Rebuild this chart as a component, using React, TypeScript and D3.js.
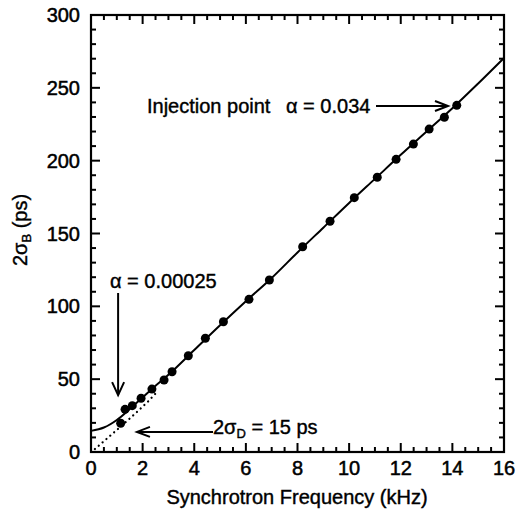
import React from "react";
import * as d3 from "d3";

// Measured points: synchrotron frequency (kHz) vs 2σB (ps)
const freqKHz = [1.15, 1.32, 1.6, 1.94, 2.36, 2.83, 3.14, 3.77, 4.43, 5.13, 6.12, 6.91, 8.2, 9.26, 10.2, 11.09, 11.82, 12.49, 13.1, 13.69, 14.17];
const bunchPs = [19.7, 29.3, 31.8, 36.9, 43.2, 49.4, 55.1, 66.1, 78.1, 89.4, 104.8, 118.1, 140.9, 158.4, 174.6, 188.6, 200.9, 211.4, 221.7, 229.8, 238.0];

// Solid fit curve
const fitFreq = [0, 0.5, 1, 1.5, 2, 2.5, 3, 4, 5, 6, 7, 8, 9, 10, 11, 12, 13, 14, 15, 16];
const fitPs = [14.5, 16.8, 22, 29.5, 37.5, 45.5, 53, 70, 87, 103.5, 119.5, 137, 154, 171, 187.5, 204, 220, 236, 253, 270.5];

// Dotted curve (no 2σD)
const dotFreq = [0.15, 0.7, 1.25, 1.75, 2.2, 2.6];
const dotPs = [2, 10.5, 19, 27, 34.5, 42];

const xTickLabels = [0, 2, 4, 6, 8, 10, 12, 14, 16];
const yTickLabels = [0, 50, 100, 150, 200, 250, 300];

const W = 516;
const H = 512;
const FONT = "'Liberation Sans', Arial, Helvetica, sans-serif";

export default function App() {
  const x = d3.scaleLinear().domain([0, 16]).range([91, 504]);
  const y = d3.scaleLinear().domain([0, 300]).range([452, 15]);

  const line = d3
    .line<[number, number]>()
    .x((d) => x(d[0]))
    .y((d) => y(d[1]))
    .curve(d3.curveCatmullRom.alpha(0.5));
  const fitPath = line(fitFreq.map((f, i) => [f, fitPs[i]]) as [number, number][]) || "";
  const dotPath = d3
    .line<[number, number]>()
    .x((d) => x(d[0]))
    .y((d) => y(d[1]))(dotFreq.map((f, i) => [f, dotPs[i]]) as [number, number][]) || "";

  const [x0, x1] = x.range();
  const [y0, y1] = y.range();

  const xMinor = d3.range(0, 16.001, 0.5);
  const yMinor = d3.range(0, 300.001, 10);
  const ticks: JSX.Element[] = [];
  xMinor.forEach((v, i) => {
    const major = Math.abs(v % 2) < 1e-6;
    const len = major ? 9 : 5;
    const px = x(v);
    ticks.push(<line key={"xb" + i} x1={px} x2={px} y1={y0} y2={y0 - len} />);
    ticks.push(<line key={"xt" + i} x1={px} x2={px} y1={y1} y2={y1 + len} />);
  });
  yMinor.forEach((v, i) => {
    const major = Math.abs(v % 50) < 1e-6;
    const len = major ? 9 : 5;
    const py = y(v);
    ticks.push(<line key={"yl" + i} x1={x0} x2={x0 + len} y1={py} y2={py} />);
    ticks.push(<line key={"yr" + i} x1={x1} x2={x1 - len} y1={py} y2={py} />);
  });

  // annotation anchors (data coords -> pixels)
  const injTip = { x: x(13.83), y: y(237.5) };
  const alphaTip = { x: x(1.05), y: y(39) };
  const sigTip = { x: x(1.78), y: y(13.8) };

  return (
    <svg
      width={W}
      height={H}
      style={{ position: "absolute", left: 0, top: 0, background: "#fff" }}
      fontFamily={FONT}
    >
      <rect width={W} height={H} fill="#fff" />
      {/* curves */}
      <path d={dotPath} fill="none" stroke="#000" strokeWidth={2.2} strokeDasharray="0.1 5" strokeLinecap="round" />
      <path d={fitPath} fill="none" stroke="#000" strokeWidth={2} />
      {freqKHz.map((f, i) => (
        <circle key={i} cx={x(f)} cy={y(bunchPs[i])} r={4.5} fill="#000" />
      ))}

      {/* frame and ticks */}
      <g stroke="#000" strokeWidth={2}>{ticks}</g>
      <rect x={x0} y={y1} width={x1 - x0} height={y0 - y1} fill="none" stroke="#000" strokeWidth={2.2} />

      {/* tick labels */}
      <g fontSize={20} fill="#000" stroke="#000" strokeWidth={0.5}>
        {xTickLabels.map((v) => (
          <text key={"xl" + v} x={x(v)} y={475} textAnchor="middle">
            {v}
          </text>
        ))}
        {yTickLabels.map((v) => (
          <text key={"yl" + v} x={80} y={y(v) + 7} textAnchor="end">
            {v}
          </text>
        ))}
      </g>

      {/* axis titles */}
      <g fill="#000" stroke="#000" strokeWidth={0.4}>
        <text x={297} y={504} textAnchor="middle" fontSize={20}>
          Synchrotron Frequency (kHz)
        </text>
        <text transform={`translate(27,230) rotate(-90)`} textAnchor="middle" fontSize={20}>
          2σ<tspan fontSize={13} dy={4}>B</tspan>
          <tspan dy={-4}> (ps)</tspan>
        </text>
      </g>

      {/* annotations */}
      <g fill="#000" fontSize={20} stroke="#000" strokeWidth={0.4}>
        <text x={147} y={113}>Injection point</text>
        <text x={286} y={113}>α = 0.034</text>
        <text x={110} y={288}>α = 0.00025</text>
        <text x={213} y={434}>
          2σ<tspan fontSize={13} dy={4}>D</tspan>
          <tspan dy={-4}> = 15 ps</tspan>
        </text>
      </g>
      <g stroke="#000" strokeWidth={2} fill="none">
        {/* injection arrow */}
        <line x1={376} y1={injTip.y} x2={injTip.x} y2={injTip.y} />
        <polyline points={`${injTip.x - 13},${injTip.y - 5} ${injTip.x},${injTip.y} ${injTip.x - 13},${injTip.y + 5}`} />
        {/* alpha small arrow */}
        <line x1={alphaTip.x} y1={293} x2={alphaTip.x} y2={alphaTip.y} />
        <polyline points={`${alphaTip.x - 6},${alphaTip.y - 13} ${alphaTip.x},${alphaTip.y} ${alphaTip.x + 6},${alphaTip.y - 13}`} />
        {/* sigma D arrow */}
        <line x1={sigTip.x} y1={sigTip.y} x2={213} y2={sigTip.y} />
        <polyline points={`${sigTip.x + 13},${sigTip.y - 5} ${sigTip.x},${sigTip.y} ${sigTip.x + 13},${sigTip.y + 5}`} />
      </g>
    </svg>
  );
}
